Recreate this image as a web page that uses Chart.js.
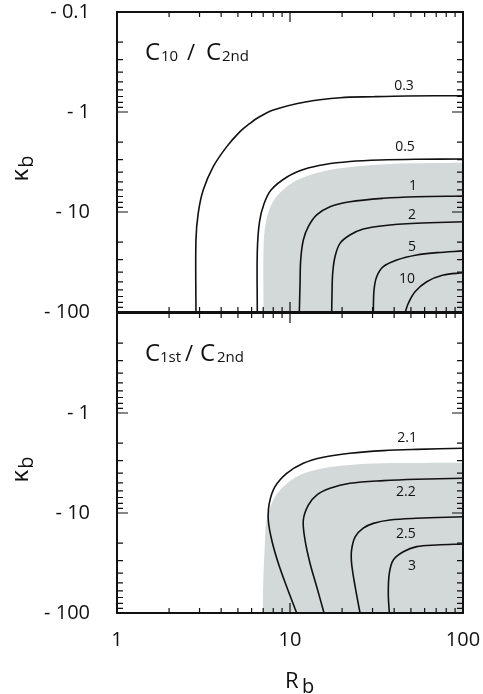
<!DOCTYPE html>
<html><head><meta charset="utf-8">
<script src="https://cdn.jsdelivr.net/npm/chart.js@4.4.1/dist/chart.umd.min.js"></script>
<style>
html,body{margin:0;padding:0;background:#fff;}
#wrap{position:relative;width:483px;height:694px;}
canvas{position:absolute;left:0;top:0;}
</style></head><body>
<div id="wrap"><canvas id="c1" width="483" height="694"></canvas><canvas id="c2" width="483" height="694"></canvas></div>
<script>
// ---- axes ----
const xTicks = [1, 10, 100];
const xTickLabels = ['1', '10', '100'];
const yTicks = [0.1, 1, 10, 100];
const yTickLabels = ['- 0.1', '- 1', '- 10', '- 100'];

// ---- top panel: C10 / C2nd  (points are [R_b, |kappa_b|]) ----
const topCurve03 = [[2.86,100],[2.86,19.0],[2.95,10.2],[3.15,6.03],[3.60,3.52],[4.31,2.22],[5.14,1.57],[5.87,1.30],[6.42,1.16],[8.01,0.955],[12.5,0.789],[19.5,0.719],[30.3,0.703],[47.3,0.692],[100,0.687]];
const topCurve05 = [[6.47,100],[6.47,25.1],[6.66,12.6],[7.07,8.32],[7.77,6.03],[9.61,4.47],[12.2,3.72],[15.9,3.35],[22.2,3.13],[33.1,3.02],[54.2,2.97],[100,2.95]];
const topCurve1  = [[11.32,100],[11.42,55.9],[11.53,30.2],[11.94,19.05],[12.76,14.0],[14.27,10.7],[17.03,8.85],[22.2,7.89],[34.6,7.29],[54.0,7.03],[100,6.92]];
const topCurve2  = [[17.42,100],[17.49,65],[17.65,41],[18.2,28],[19.45,20.6],[22.2,17.0],[26.5,14.8],[34.6,13.7],[54,12.97],[100,12.5]];
const topCurve5  = [[30.3,100],[30.6,60.3],[31.7,44.4],[34.6,35.2],[41.4,30.2],[54,26.9],[70.5,25.5],[100,24.5]];
const topCurve10 = [[46.4,100],[48.3,81.8],[52.8,62.7],[61.7,49.8],[76.9,42.7],[100,40.5]];
const topGray    = [[7.01,100],[7.01,24],[7.22,13.2],[7.66,9.12],[8.41,6.92],[10.27,5.13],[13.05,4.27],[17.0,3.8],[23.8,3.51],[37.8,3.31],[64.5,3.24],[100,3.21]];
const topLabelText = ['0.3', '0.5', '1', '2', '5', '10'];
const topLabelR    = [45.6, 46.2, 51.4, 50.7, 50.7, 47.5];
const topLabelK    = [0.55, 2.24, 5.5, 10.7, 22.4, 46.8];

// ---- bottom panel: C1st / C2nd ----
const botCurve21 = [[10.93,100],[9.57,54.6],[8.56,31.8],[7.84,18.6],[7.49,11.75],[7.59,8.0],[8.19,5.46],[9.57,4.01],[11.94,3.18],[15.58,2.77],[22.2,2.53],[34.6,2.38],[54,2.31],[100,2.25]];
const botCurve22 = [[15.73,100],[14.27,54.6],[13.05,31.8],[12.21,18.6],[11.94,11.75],[12.76,8.32],[14.27,6.61],[17.03,5.66],[22.2,5.05],[34.6,4.75],[54,4.6],[100,4.5]];
const botCurve25 = [[25.4,100],[23.8,54.6],[22.7,31.8],[22.7,23.4],[23.8,17.3],[26.5,14.2],[30.3,12.7],[37.8,11.75],[54,11.3],[100,10.9]];
const botCurve3  = [[37.5,100],[37.0,63.5],[37.5,40.1],[39.55,29.5],[45.2,24.4],[54,21.7],[70.5,20.9],[100,20.4]];
const botGray    = [[6.95,100],[7.01,46.8],[7.12,25.1],[7.33,11.75],[8.01,7.41],[9.15,5.46],[11.42,4.17],[15.58,3.57],[22.2,3.31],[34.6,3.18],[100,3.14]];
const botLabelText = ['2.1', '2.2', '2.5', '3'];
const botLabelR    = [47.5, 46.8, 46.8, 50.7];
const botLabelK    = [1.78, 6.17, 16.2, 33.9];

const FONT = '"Open Sans", "Noto Sans", sans-serif';
const INK = '#111';
const GRAY = '#d3d8d8';

function lineDS(d){ return {data:d, borderColor:INK, borderWidth:1.6, pointRadius:0, tension:0.35, fill:false, order:1}; }
function grayDS(d){ return {data:d, borderColor:'rgba(0,0,0,0)', borderWidth:0, pointRadius:0, tension:0.35, backgroundColor:GRAY, fill:{value:100}, order:10}; }

function drawRuns(ctx, y, parts){
  for (const [t, x, size, dy] of parts){
    ctx.font = size + 'px ' + FONT;
    ctx.fillText(t, x, y + dy);
  }
}

const panelPlugin = {
  id:'panel',
  afterDatasetsDraw(chart, args, o){
    const ctx = chart.ctx, a = chart.chartArea;
    const xs = chart.scales.x, ys = chart.scales.y;
    ctx.save();
    // frame
    ctx.strokeStyle = INK; ctx.lineWidth = 2;
    ctx.strokeRect(a.left, a.top, a.right - a.left, a.bottom - a.top);
    // inner ticks
    ctx.lineWidth = 1.2;
    ctx.beginPath();
    for (let d = 1; d < 100; d *= 10){
      for (let m = 1; m <= 9; m++){
        const v = m * d; if (v <= 1) continue;
        const px = xs.getPixelForValue(v);
        const L = (m === 1) ? 10 : 5;
        ctx.moveTo(px, a.top); ctx.lineTo(px, a.top + L);
        ctx.moveTo(px, a.bottom); ctx.lineTo(px, a.bottom - L);
      }
    }
    for (let d = 0.1; d < 99; d *= 10){
      for (let m = 1; m <= 9; m++){
        const v = m * d; if (v <= 0.1 + 1e-9) continue;
        const py = ys.getPixelForValue(v);
        const L = (m === 1) ? 11 : 6;
        ctx.moveTo(a.left, py); ctx.lineTo(a.left + L, py);
        ctx.moveTo(a.right, py); ctx.lineTo(a.right - L, py);
      }
    }
    ctx.stroke();
    // contour labels
    ctx.fillStyle = INK;
    ctx.font = '14px ' + FONT;
    ctx.textAlign = 'center'; ctx.textBaseline = 'middle';
    o.labelText.forEach((t, i) => {
      ctx.fillText(t, xs.getPixelForValue(o.labelR[i]), ys.getPixelForValue(o.labelK[i]));
    });
    // panel title
    ctx.textAlign = 'left'; ctx.textBaseline = 'alphabetic';
    const tb = a.top + 47.5;
    drawRuns(ctx, tb, o.title.map(p => [p[0], a.left + p[1], p[2], p[3]]));
    // y axis title (rotated)
    ctx.save();
    ctx.translate(28, (a.top + a.bottom) / 2 + 7);
    ctx.rotate(-Math.PI / 2);
    ctx.font = '24px ' + FONT;
    const wk = ctx.measureText('κ').width;
    ctx.font = '20px ' + FONT;
    const wb = ctx.measureText('b').width;
    const x0 = -(wk + wb) / 2;
    ctx.font = '24px ' + FONT; ctx.fillText('κ', x0, 0);
    ctx.font = '20px ' + FONT; ctx.fillText('b', x0 + wk + 1, 5);
    ctx.restore();
    // x axis title on bottom panel
    if (o.xTitle){
      ctx.font = '22px ' + FONT; ctx.fillText('R', 285, 688);
      ctx.font = '20px ' + FONT; ctx.fillText('b', 302, 693);
    }
    ctx.restore();
  }
};

function makeChart(id, datasets, pad, isBottom, opts){
  return new Chart(document.getElementById(id), {
    type:'line',
    data:{datasets},
    options:{
      responsive:false, animation:false, events:[],
      layout:{padding:pad},
      plugins:{legend:{display:false}, tooltip:{enabled:false}, panel:opts},
      scales:{
        x:{type:'logarithmic', min:1, max:100, display:isBottom,
           grid:{display:false}, border:{display:false},
           afterBuildTicks:s => { s.ticks = xTicks.map(v => ({value:v})); },
           afterFit:s => { s.height = isBottom ? 81 : 0; s.paddingLeft = 0; s.paddingRight = 0; },
           ticks:{callback:(v) => xTickLabels[xTicks.indexOf(v)], font:{family:FONT, size:20}, color:INK, padding:7, maxRotation:0, autoSkip:false}},
        y:{type:'logarithmic', min:0.1, max:100, reverse:true,
           grid:{display:false}, border:{display:false},
           afterBuildTicks:s => { s.ticks = yTicks.map(v => ({value:v})); },
           afterFit:s => { s.width = 117; s.paddingTop = 0; s.paddingBottom = 0; },
           ticks:{callback:(v) => (isBottom && v === 0.1) ? '' : yTickLabels[yTicks.indexOf(v)], font:{family:FONT, size:20}, color:INK, padding:19, autoSkip:false}}
      }
    },
    plugins:[panelPlugin]
  });
}

makeChart('c1',
  [lineDS(topCurve03), lineDS(topCurve05), lineDS(topCurve1), lineDS(topCurve2), lineDS(topCurve5), lineDS(topCurve10), grayDS(topGray)],
  {top:12, bottom:382, left:0, right:20}, false,
  {labelText:topLabelText, labelR:topLabelR, labelK:topLabelK,
   title:[['C',28,24,0],['10',44,15,1],['/',70,22,0],['C',89,24,0],['2nd',105,15,1]]});

makeChart('c2',
  [lineDS(botCurve21), lineDS(botCurve22), lineDS(botCurve25), lineDS(botCurve3), grayDS(botGray)],
  {top:313, bottom:0, left:0, right:20}, true,
  {labelText:botLabelText, labelR:botLabelR, labelK:botLabelK, xTitle:true,
   title:[['C',28,24,0],['1st',43,15,1],['/',68,22,0],['C',83,24,0],['2nd',100,15,1]]});
</script>
</body></html>
